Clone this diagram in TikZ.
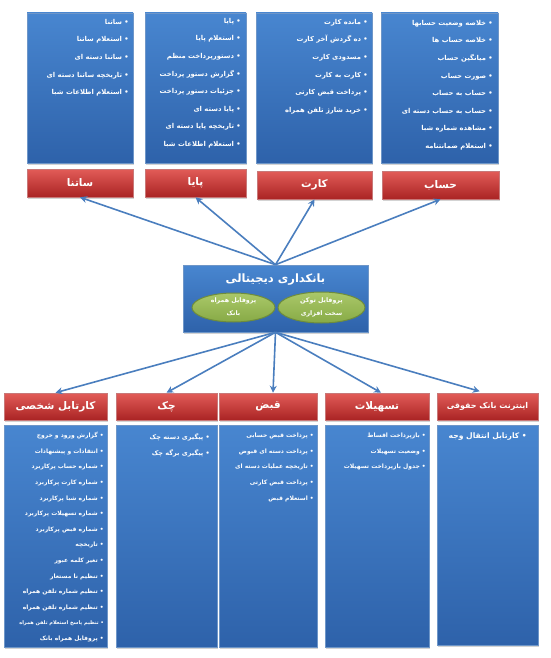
\documentclass[tikz,border=0pt]{standalone}
\usepackage{fontspec}
\usetikzlibrary{arrows.meta,shadows,shapes.geometric}
\TeXXeTstate=1
\newfontfamily\fafont[Script=Arabic]{DejaVu Sans}
\newcommand{\fa}[1]{\beginR #1\endR}
\definecolor{boxtop}{RGB}{72,134,208}
\definecolor{boxbot}{RGB}{46,98,170}
\definecolor{boxline}{RGB}{110,150,200}
\definecolor{redtop}{RGB}{226,92,88}
\definecolor{redbot}{RGB}{170,36,36}
\definecolor{redline}{RGB}{200,120,120}
\definecolor{greentop}{RGB}{170,200,105}
\definecolor{greenbot}{RGB}{135,170,70}
\definecolor{greenline}{RGB}{110,140,60}
\definecolor{arrowcol}{RGB}{74,126,190}
\tikzset{
  bluebox/.style={draw=boxline, line width=0.6pt, top color=boxtop, bottom color=boxbot,
    drop shadow={shadow xshift=1.2pt, shadow yshift=-1.5pt, opacity=0.35}, inner sep=0},
  redhead/.style={draw=redline, line width=0.6pt, top color=redtop, bottom color=redbot,
    drop shadow={shadow xshift=1.2pt, shadow yshift=-1.5pt, opacity=0.35}, inner sep=0,
    text=white, font=\fafont\bfseries\fontsize{10.5}{12}\selectfont},
  greenell/.style={ellipse, draw=greenline, line width=1pt, top color=greentop, bottom color=greenbot,
    inner sep=0, text=white, align=center, font=\fafont\bfseries\fontsize{6.3}{13}\selectfont},
  itemlist/.style={anchor=north east, align=right, inner sep=0, text=white,
    font=\fafont\bfseries\fontsize{6.8}{17.6}\selectfont},
  itemlistsm/.style={anchor=north east, align=right, inner sep=0, text=white,
    font=\fafont\bfseries\fontsize{6}{15.6}\selectfont},
  conn/.style={draw=arrowcol, line width=1.6pt, -{Stealth[length=7pt,width=7pt]}}
}
\begin{document}
\begin{tikzpicture}[x=1pt,y=-1pt]
\useasboundingbox (0,0) rectangle (550,658);
% top blue boxes
\node[bluebox, minimum width=106pt, minimum height=150pt] (satnaB) at (80,88) {};
\node[bluebox, minimum width=101pt, minimum height=150pt] (payaB) at (195.5,88) {};
\node[bluebox, minimum width=116pt, minimum height=150pt] (kartB) at (314,88) {};
\node[bluebox, minimum width=117pt, minimum height=150pt] (hesabB) at (439.5,88) {};
% top red headers
\node[redhead, minimum width=106pt, minimum height=28pt] (satnaH) at (80,183) {\fa{ساتنا}};
\node[redhead, minimum width=101pt, minimum height=28pt] (payaH) at (195.5,183) {\fa{پایا}};
\node[redhead, minimum width=115pt, minimum height=28pt] (kartH) at (314.5,185) {\fa{کارت}};
\node[redhead, minimum width=117pt, minimum height=28pt] (hesabH) at (440.5,185) {\fa{حساب}};
% top lists
\node[itemlist] (satnaL) at (129,19) {\fa{• ساتنا}\\\fa{• استعلام ساتنا}\\\fa{• ساتنا دسته ای}\\\fa{• تاریخچه ساتنا دسته ای}\\\fa{• استعلام اطلاعات شبا}};
\node[itemlist] (payaL) at (241,18) {\fa{• پایا}\\\fa{• استعلام پایا}\\\fa{• دستورپرداخت منظم}\\\fa{• گزارش دستور پرداخت}\\\fa{• جزئیات دستور پرداخت}\\\fa{• پایا دسته ای}\\\fa{• تاریخچه پایا دسته ای}\\\fa{• استعلام اطلاعات شبا}};
\node[itemlist] (kartL) at (368,19) {\fa{• مانده کارت}\\\fa{• ده گردش آخر کارت}\\\fa{• مسدودی کارت}\\\fa{• کارت به کارت}\\\fa{• پرداخت قبض کارتی}\\\fa{• خرید شارژ تلفن همراه}};
\node[itemlist] (hesabL) at (493,20) {\fa{• خلاصه وضعیت حسابها}\\\fa{• خلاصه حساب ها}\\\fa{• میانگین حساب}\\\fa{• صورت حساب}\\\fa{• حساب به حساب}\\\fa{• حساب به حساب دسته ای}\\\fa{• مشاهده شماره شبا}\\\fa{• استعلام ضمانتنامه}};
% central node
\node[bluebox, minimum width=185pt, minimum height=67pt] (dig) at (275.5,298.5) {};
\node[text=white, font=\fafont\bfseries\fontsize{11.5}{14}\selectfont, inner sep=0] (digT) at (275.5,280) {\fa{بانکداری دیجیتالی}};
\node[greenell, minimum width=83pt, minimum height=29pt] (mobE) at (233.5,307.5) {\fa{پروفایل همراه}\\\fa{بانک}};
\node[greenell, minimum width=87pt, minimum height=31pt] (tokE) at (321.5,307.5) {\fa{پروفایل توکن}\\\fa{سخت افزاری}};
% bottom red headers
\node[redhead, minimum width=103pt, minimum height=27pt] (kartablH) at (55.5,406.5) {\fa{کارتابل شخصی}};
\node[redhead, minimum width=101pt, minimum height=27pt] (chekH) at (166.5,406.5) {\fa{چک}};
\node[redhead, minimum width=98pt, minimum height=27pt] (ghabzH) at (268,406.5) {\fa{قبض}};
\node[redhead, minimum width=104pt, minimum height=27pt] (tashH) at (377,406.5) {\fa{تسهیلات}};
\node[redhead, minimum width=101pt, minimum height=27pt, font=\fafont\bfseries\fontsize{8}{10}\selectfont] (intH) at (487.5,406.5) {\fa{اینترنت بانک حقوقی}};
% bottom blue boxes
\node[bluebox, minimum width=103pt, minimum height=222pt] (kartablB) at (55.5,536) {};
\node[bluebox, minimum width=101pt, minimum height=222pt] (chekB) at (166.5,536) {};
\node[bluebox, minimum width=98pt, minimum height=222pt] (ghabzB) at (268,536) {};
\node[bluebox, minimum width=104pt, minimum height=222pt] (tashB) at (377,536) {};
\node[bluebox, minimum width=101pt, minimum height=220pt] (intB) at (487.5,535) {};
% bottom lists
\node[itemlistsm] (kartablL) at (104,432) {\fa{• گزارش ورود و خروج}\\\fa{• انتقادات و پیشنهادات}\\\fa{• شماره حساب پرکاربرد}\\\fa{• شماره کارت پرکاربرد}\\\fa{• شماره شبا پرکاربرد}\\\fa{• شماره تسهیلات پرکاربرد}\\\fa{• شماره قبض پرکاربرد}\\\fa{• تاریخچه}\\\fa{• تغیر کلمه عبور}\\\fa{• تنظیم نا مستعار}\\\fa{• تنظیم شماره تلفن همراه}\\\fa{• تنظیم شماره تلفن همراه}\\\fa{\fontsize{5}{15.6}\selectfont• تنظیم پاسخ استعلام تلفن همراه}\\\fa{• پروفایل همراه بانک}};
\node[itemlist, font=\fafont\bfseries\fontsize{6.5}{16.5}\selectfont] (chekL) at (210,433) {\fa{• پیگیری دسته چک}\\\fa{• پیگیری برگه چک}};
\node[itemlistsm] (ghabzL) at (314,433) {\fa{• پرداخت قبض حسابی}\\\fa{• پرداخت دسته ای قبوض}\\\fa{• تاریخچه عملیات دسته ای}\\\fa{• پرداخت قبض کارتی}\\\fa{• استعلام قبض}};
\node[itemlistsm] (tashL) at (426,433) {\fa{• بازپرداخت اقساط}\\\fa{• وضعیت تسهیلات}\\\fa{• جدول بازپرداخت تسهیلات}};
\node[itemlist, font=\fafont\bfseries\fontsize{7.6}{12}\selectfont] (intL) at (527,433) {\fa{• کارتابل انتقال وجه}};
% connectors
\draw[conn] (dig.north) -- (satnaH.south);
\draw[conn] (dig.north) -- (payaH.south);
\draw[conn] (dig.north) -- (kartH.south);
\draw[conn] (dig.north) -- (hesabH.south);
\draw[conn] (dig.south) -- (kartablH.north);
\draw[conn] (dig.south) -- (chekH.north);
\draw[conn] (dig.south) -- ([xshift=5pt]ghabzH.north);
\draw[conn] (dig.south) -- ([xshift=4pt]tashH.north);
\draw[conn, shorten >=5pt] (dig.south) -- ([xshift=-3pt]intH.north);
\end{tikzpicture}
\end{document}
